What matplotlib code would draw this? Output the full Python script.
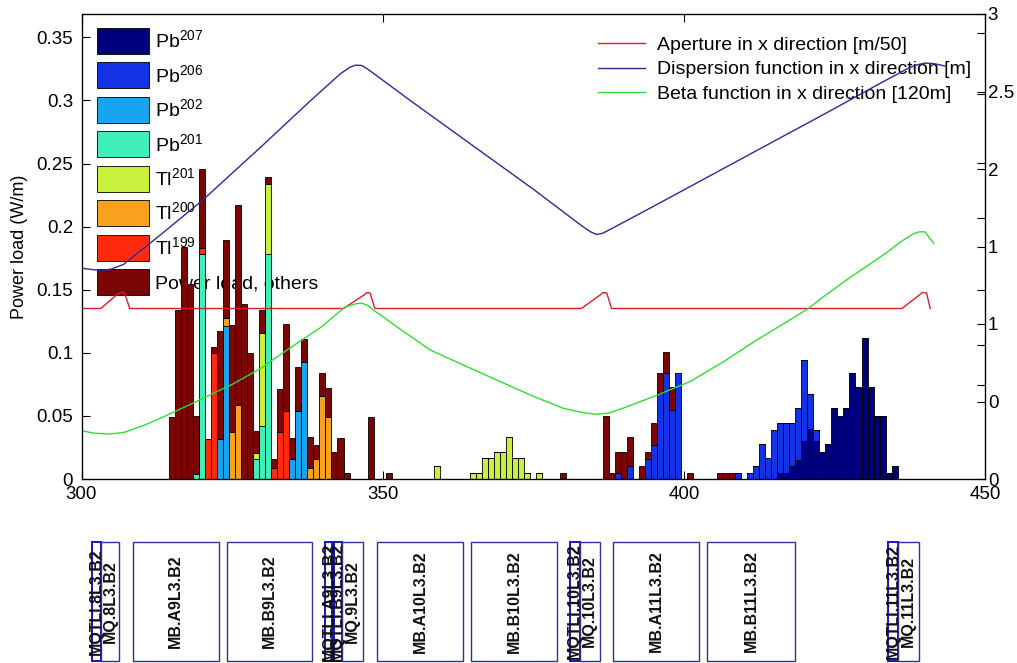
import matplotlib
matplotlib.use("Agg")
import matplotlib.pyplot as plt
from matplotlib.patches import Rectangle
import numpy as np

plt.rcParams['font.family'] = ['Liberation Sans', 'DejaVu Sans']
plt.rcParams['mathtext.default'] = 'regular'

# ---------------------------------------------------------------------------
# Power load per 1 m bin (W/m), split by ion species
# ---------------------------------------------------------------------------
bin_pos = [315, 316, 317, 318, 319, 320, 321, 322, 323, 324, 325, 326, 327, 328, 329,
           330, 331, 332, 333, 334, 335, 336, 337, 338, 339, 340, 341, 342, 343, 344,
           348, 351, 359, 365, 366, 367, 368, 369, 370, 371, 372, 373, 374, 376, 380,
           387, 388, 389, 390, 391, 393, 394, 395, 396, 397, 398, 399, 401,
           406, 407, 408, 409, 411, 412, 413, 414, 415, 416, 417, 418, 419, 420, 421,
           422, 423, 424, 425, 426, 427, 428, 429, 430, 431, 432, 433, 434, 435]

pb207 = [0]*58 + [0, 0, 0, 0, 0, 0, 0, 0, 0, 0.005, 0.005, 0.010, 0.015, 0.030, 0.040,
                  0.030, 0.0217, 0.0275, 0.056, 0.0502, 0.056, 0.0837, 0.0726, 0.1115,
                  0.0726, 0.0502, 0.0502, 0.005, 0.0103]

pb206 = [0]*45 + [0, 0, 0.005, 0, 0.0103, 0, 0.0156, 0.0269, 0.0679, 0.0837, 0.0547,
                  0.0837, 0,
                  0, 0, 0, 0.005, 0.005, 0.0103, 0.0275, 0.0164, 0.0388, 0.0391, 0.0391,
                  0.0341, 0.041, 0.0643, 0.0271, 0.0088, 0, 0, 0, 0, 0, 0, 0, 0, 0, 0,
                  0, 0, 0]

pb202 = [0, 0, 0, 0, 0, 0, 0, 0, 0.032, 0.121, 0, 0, 0, 0, 0,
         0, 0, 0, 0, 0, 0.0156, 0.054, 0.093, 0, 0, 0, 0, 0, 0, 0] + [0]*57

pb201 = [0, 0, 0, 0, 0.004, 0.178, 0, 0, 0, 0, 0, 0, 0, 0, 0.0156,
         0.042, 0.178, 0, 0, 0, 0, 0, 0, 0, 0, 0, 0, 0, 0, 0] + [0]*57

tl201 = [0]*14 + [0.005, 0.074, 0.0556] + [0]*13 + \
        [0, 0, 0.0103, 0.005, 0.005, 0.0164, 0.0164, 0.0217, 0.0217, 0.0335, 0.0164,
         0.0164, 0.005, 0.005, 0] + [0]*42

tl200 = [0, 0, 0, 0, 0, 0, 0, 0, 0, 0.0066, 0.037, 0.059, 0, 0, 0,
         0, 0, 0, 0, 0, 0, 0, 0, 0.009, 0.0156, 0.066, 0.0495, 0, 0, 0] + [0]*57

tl199 = [0, 0, 0, 0, 0, 0.005, 0.032, 0.0995, 0, 0, 0, 0, 0, 0, 0,
         0, 0, 0.009, 0.037, 0.054, 0, 0, 0, 0, 0, 0, 0, 0, 0, 0] + [0]*57

others = [0.0495, 0.134, 0.184, 0.1545, 0.046, 0.063, 0, 0.0055, 0.085, 0.062, 0.085,
          0.1585, 0.1386, 0.100, 0.0174, 0.018, 0.0058, 0.0066, 0.0347, 0.069, 0.0172,
          0.035, 0.018, 0.024, 0.011, 0.018, 0.0225, 0.0214, 0.0328, 0.0045,
          0.0495, 0.005, 0, 0, 0, 0, 0, 0, 0, 0, 0, 0, 0, 0, 0.005,
          0.050, 0.005, 0.0167, 0.0217, 0.0232, 0.0103, 0.0061, 0.0172, 0.0158, 0.0172,
          0.0179, 0, 0.005,
          0.005, 0.005, 0.005, 0] + [0]*25

species_labels = ['Pb$^{207}$', 'Pb$^{206}$', 'Pb$^{202}$', 'Pb$^{201}$',
                  'Tl$^{201}$', 'Tl$^{200}$', 'Tl$^{199}$', 'Power load, others']
species_colors = ['#00007e', '#1432e6', '#18a4ee', '#40f0b8',
                  '#c8f03c', '#f8a020', '#ff2a10', '#7a0606']

# ---------------------------------------------------------------------------
# Optics along the beam line (right axis units)
# ---------------------------------------------------------------------------
aper_s = [300, 303.2, 305.9, 306.5, 307.1, 307.5, 308.0,
          343.5, 347.0, 347.4, 347.9, 348.7,
          383.0, 386.2, 386.6, 387.2, 388.0,
          436.2, 439.2, 439.6, 440.3, 440.9]
aper_v = [1.10, 1.10, 1.19, 1.205, 1.20, 1.16, 1.10,
          1.10, 1.19, 1.203, 1.20, 1.10,
          1.10, 1.19, 1.203, 1.20, 1.10,
          1.10, 1.19, 1.203, 1.20, 1.10]

disp_s = [300, 302, 303.5, 305, 307, 312, 320, 330, 338, 343, 344.5, 345.5, 346.5,
          347.5, 355, 365, 375, 383, 384.5, 385.5, 386.5, 388, 395, 405, 415, 421.5,
          425, 432, 437, 438.5, 440, 441.5, 443.3]
disp_v = [1.36, 1.35, 1.345, 1.355, 1.385, 1.54, 1.795, 2.15, 2.44, 2.615, 2.655, 2.67,
          2.668, 2.645, 2.43, 2.15, 1.87, 1.635, 1.595, 1.578, 1.585, 1.615, 1.76, 1.97,
          2.18, 2.316, 2.39, 2.54, 2.645, 2.67, 2.683, 2.68, 2.665]

beta_s = [300, 302, 304.5, 307, 310.5, 313, 315.2, 318, 321.9, 325, 329.6, 334.3,
          339.9, 341.3, 343.75, 345.5, 346.5, 347.5, 348.45, 350.4, 352.3, 357.9,
          363.4, 368.9, 374.5, 380.0, 383.3, 385.5, 387.5, 390.0, 395.5, 401.0,
          406.6, 412.1, 417.6, 420.7, 423.2, 427.0, 431, 434, 436, 438, 439, 440, 441.5]
beta_v = [0.312, 0.296, 0.29, 0.30, 0.348, 0.39, 0.43, 0.48, 0.553, 0.61, 0.71, 0.837,
          0.983, 1.03, 1.11, 1.13, 1.135, 1.12, 1.09, 1.037, 0.983, 0.832,
          0.735, 0.639, 0.542, 0.456, 0.428, 0.417, 0.425, 0.458, 0.54, 0.628,
          0.757, 0.897, 1.026, 1.101, 1.176, 1.284, 1.39, 1.47, 1.53, 1.58, 1.594,
          1.595, 1.52]

# ---------------------------------------------------------------------------
# Magnet layout
# ---------------------------------------------------------------------------
elem_names = ['MQTLI.8L3.B2', 'MQ.8L3.B2', 'MB.A9L3.B2', 'MB.B9L3.B2',
              'MQTLI.A9L3.B2', 'MQTLI.B9L3.B2', 'MQ.9L3.B2', 'MB.A10L3.B2',
              'MB.B10L3.B2', 'MQTLI.10L3.B2', 'MQ.10L3.B2', 'MB.A11L3.B2',
              'MB.B11L3.B2', 'MQTLI.11L3.B2', 'MQ.11L3.B2']
elem_start = [301.7, 303.3, 308.5, 324.1, 340.4, 341.6, 343.2, 349.0,
              364.7, 381.1, 382.7, 388.3, 403.9, 433.95, 435.55]
elem_end = [303.3, 306.3, 322.8, 338.3, 341.9, 343.2, 346.8, 363.4,
            379.0, 382.7, 386.1, 402.6, 418.4, 435.55, 439.1]

W, H = 1017, 663
fig = plt.figure(figsize=(W / 100, H / 100), dpi=100)

ax = fig.add_axes([81.5 / W, 1 - 479 / H, 903.5 / W, 465 / H])
ax.set_xlim(300, 450)
ax.set_ylim(0, 0.3685)

series = [pb207, pb206, pb202, pb201, tl201, tl200, tl199, others]
bottom = np.zeros(len(bin_pos))
bars = []
for vals, col, lab in zip(series, species_colors, species_labels):
    vals = np.asarray(vals, dtype=float)
    b = ax.bar(bin_pos, vals, width=1.0, bottom=bottom, color=col,
               edgecolor='black', linewidth=0.6, label=lab, zorder=2)
    bars.append(b)
    bottom = bottom + vals

ax.set_xticks([300, 350, 400, 450])
ax.set_yticks(np.arange(0, 0.351, 0.05))
ax.set_yticklabels(['0', '0.05', '0.1', '0.15', '0.2', '0.25', '0.3', '0.35'])
ax.tick_params(axis='both', direction='in', length=6, width=0.8, labelsize=13.5)
ax.tick_params(axis='x', top=True, pad=5)
ax.tick_params(axis='y', right=False, pad=6)
ax.set_ylabel('Power load (W/m)', fontsize=13, labelpad=6)
for sp in ax.spines.values():
    sp.set_linewidth(0.9)

leg1 = ax.legend(handles=bars, labels=species_labels, loc='upper left',
                 bbox_to_anchor=(97 / W, 1 - 28 / H), bbox_transform=fig.transFigure,
                 frameon=False, fontsize=14, borderpad=0, borderaxespad=0,
                 handlelength=2.68, handleheight=1.685, labelspacing=0.43,
                 handletextpad=0.3)
leg1.set_zorder(0)

ax2 = ax.twinx()
ax2.set_ylim(0, 3)
l1, = ax2.plot(aper_s, aper_v, color='#dd1c28', lw=1.0,
               label='Aperture in x direction [m/50]')
l2, = ax2.plot(disp_s, disp_v, color='#2a2a9c', lw=1.0,
               label='Dispersion function in x direction [m]')
l3, = ax2.plot(beta_s, beta_v, color='#30dd30', lw=1.0,
               label='Beta function in x direction [120m]')
ax2.set_yticks([0, 0.5, 1, 1.5, 2, 2.5, 3])
ax2.set_yticklabels(['0', '0', '1', '1', '2', '2.5', '3'])
ax2.set_yticks([0.606, 0.865, 1.219, 1.684, 2.039, 2.484, 2.877], minor=True)
ax2.tick_params(axis='y', which='both', direction='in', length=6, width=0.8,
                labelsize=13.5, pad=2)
ax2.tick_params(axis='y', which='minor', length=6)

leg2 = ax2.legend(handles=[l1, l2, l3], loc='upper left',
                  bbox_to_anchor=(598 / W, 1 - 36.5 / H), bbox_transform=fig.transFigure,
                  frameon=False, fontsize=14, borderpad=0, borderaxespad=0,
                  handlelength=2.42, handletextpad=0.62, labelspacing=0.34)
leg2.set_zorder(0)

# magnet layout strip
ax3 = fig.add_axes([81.5 / W, 0, 903.5 / W, 123 / H])
ax3.set_xlim(300, 450)
ax3.set_ylim(0, 1)
ax3.axis('off')
y0, y1 = 0.016, 0.984
for name, s0, s1 in zip(elem_names, elem_start, elem_end):
    is_corr = name.startswith('MQTL')
    ax3.add_patch(Rectangle((s0, y0), s1 - s0, y1 - y0, fill=False,
                            edgecolor='#1414c8' if is_corr else '#30309a',
                            linewidth=1.4 if is_corr else 1.0, clip_on=False))
    ax3.text((s0 + s1) / 2, (y0 + y1) / 2, name, rotation=90, ha='center',
             va='center', fontsize=11.5, fontweight='bold', color='#111111')

fig.savefig('out.png', dpi=100)
